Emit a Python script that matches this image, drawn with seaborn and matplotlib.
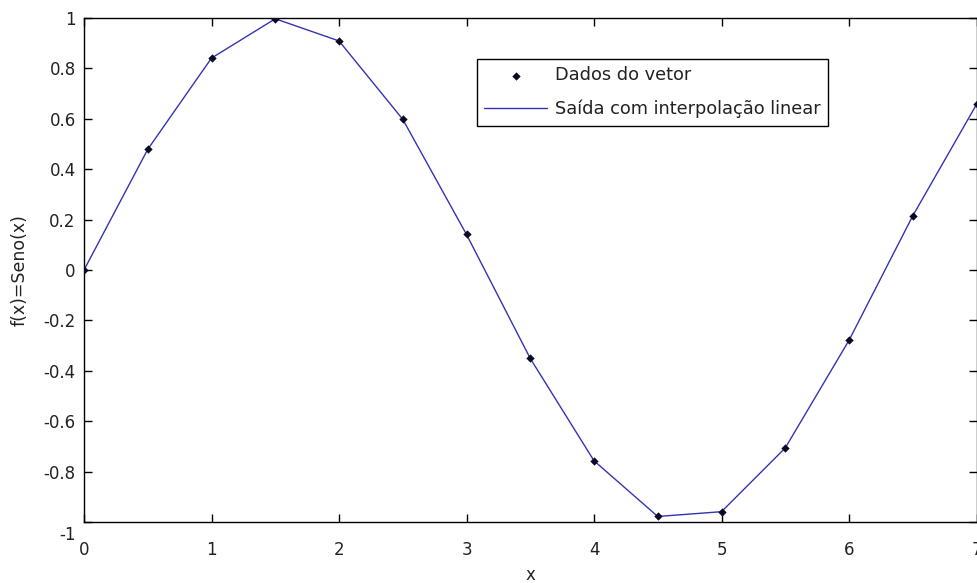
import matplotlib
matplotlib.use("Agg")
import matplotlib.pyplot as plt
from matplotlib.transforms import ScaledTranslation
import seaborn as sns
import pandas as pd

# Sample points of sin(x) at a step of 0.5
x_vals = [0.0, 0.5, 1.0, 1.5, 2.0, 2.5, 3.0, 3.5, 4.0, 4.5, 5.0, 5.5, 6.0, 6.5, 7.0]
y_vals = [0.000, 0.479, 0.841, 0.997, 0.909, 0.598, 0.141, -0.351, -0.757,
          -0.978, -0.959, -0.706, -0.279, 0.215, 0.657]
x_ticks = [0, 1, 2, 3, 4, 5, 6, 7]
y_ticks = [-1, -0.8, -0.6, -0.4, -0.2, 0, 0.2, 0.4, 0.6, 0.8, 1]

df = pd.DataFrame({"x": x_vals, "y": y_vals})

sns.set_style("white")
plt.rcParams["font.family"] = ["DejaVu Sans"]

fig = plt.figure(figsize=(9.77, 5.83), dpi=100)
ax = fig.add_axes([0.086, 0.1046, 0.9135, 0.8645])

sns.scatterplot(data=df, x="x", y="y", ax=ax, marker="D", s=18,
                color="#0a0a22", edgecolor="#0a0a22", linewidth=0,
                label="Dados do vetor", zorder=3)
sns.lineplot(data=df, x="x", y="y", ax=ax, color="#3434b2", linewidth=1.0,
             label="Saída com interpolação linear", zorder=2)

ax.set_xlim(0, 7)
ax.set_ylim(-1, 1)
ax.set_xticks(x_ticks)
ax.set_xticklabels([f"{t:g}" for t in x_ticks])
ax.set_yticks(y_ticks)
ax.set_yticklabels([f"{t:g}" for t in y_ticks])
ax.tick_params(direction="in", length=6, width=1, top=True, right=True,
               bottom=True, left=True, labelsize=12, color="black",
               labelcolor="#222222")
ax.tick_params(axis="x", pad=14)
ax.tick_params(axis="y", pad=6)
for side in ax.spines.values():
    side.set_color("black")
    side.set_linewidth(1)

# lowest y label sits a little below its tick
bottom_lab = ax.yaxis.get_major_ticks()[0].label1
bottom_lab.set_transform(bottom_lab.get_transform() +
                         ScaledTranslation(0, -0.11, fig.dpi_scale_trans))

ax.set_xlabel("x", fontsize=12, color="#222222")
ax.set_ylabel("f(x)=Seno(x)", fontsize=12.5, color="#222222")
ax.xaxis.set_label_coords(0.5, -0.088)
ax.yaxis.set_label_coords(-0.062, 0.5)

leg = ax.legend(loc="upper left", bbox_to_anchor=(0.440, 0.9187),
                fontsize=12.8, frameon=True, fancybox=False, framealpha=1,
                edgecolor="black", borderpad=0.42, handlelength=3.55,
                handletextpad=0.45, labelspacing=0.85, borderaxespad=0)
leg.get_frame().set_linewidth(1)
for txt in leg.get_texts():
    txt.set_color("#222222")

fig.savefig("out.png", dpi=100)
